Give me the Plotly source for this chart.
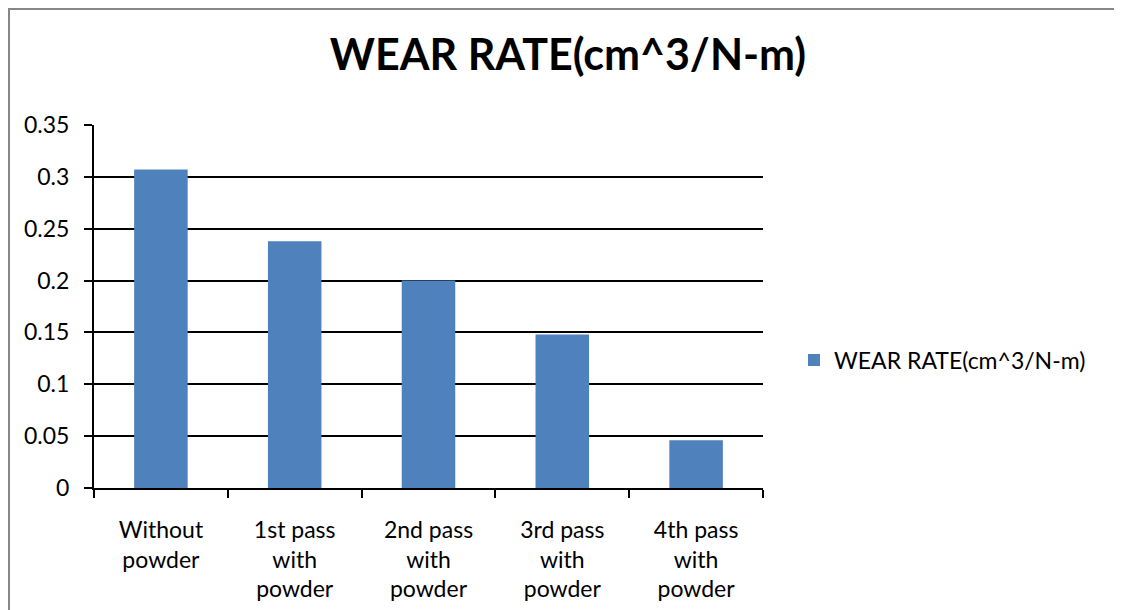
import plotly.graph_objects as go

categories = ["Without<br>powder", "1st pass<br>with<br>powder", "2nd pass<br>with<br>powder",
              "3rd pass<br>with<br>powder", "4th pass<br>with<br>powder"]
wear_rate = [0.307, 0.238, 0.200, 0.148, 0.046]
y_ticks = [0, 0.05, 0.1, 0.15, 0.2, 0.25, 0.3, 0.35]
y_tick_labels = ["0", "0.05", "0.1", "0.15", "0.2", "0.25", "0.3", "0.35"]
series_name = "WEAR RATE(cm^3/N-m)"
title_text = "WEAR RATE(cm^3/N-m)"

FONT = "Lato"
W, H = 1114, 602
L, R, T, B = 86, 1114 - 755, 117, 602 - 480
PW, PH = 755 - 86, 480 - 117

fig = go.Figure()
fig.add_trace(go.Bar(x=categories, y=wear_rate, name=series_name,
                     marker=dict(color="#4F81BD", line=dict(width=0)),
                     showlegend=True))

fig.update_layout(
    width=W, height=H,
    margin=dict(l=L, r=R, t=T, b=B, autoexpand=False),
    paper_bgcolor="white", plot_bgcolor="white",
    font=dict(family=FONT, size=23, color="black"),
    bargap=0.6,
    title=dict(text="<b>" + title_text + "</b>", xref="container", x=560 / W, xanchor="center",
               y=1 - 47 / H, yanchor="middle", font=dict(family=FONT, size=43, color="black")),
    showlegend=True,
    legend=dict(x=(786 - L) / PW, xanchor="left", y=(480 - 352) / PH, yanchor="middle",
                font=dict(family=FONT, size=23, color="black"),
                bgcolor="rgba(0,0,0,0)", itemwidth=30),
    xaxis=dict(type="category", showline=True, linecolor="black", linewidth=2,
               ticks="outside", tickson="boundaries", ticklen=8, tickwidth=1.5, tickcolor="black",
               showgrid=False, tickfont=dict(family=FONT, size=23), ticklabelstandoff=20,
               automargin=False),
    yaxis=dict(range=[0, 0.35], tickvals=y_ticks, ticktext=y_tick_labels,
               showline=True, linecolor="black", linewidth=2,
               ticks="outside", ticklen=8, tickwidth=1.5, tickcolor="black",
               showgrid=True, gridcolor="black", gridwidth=1.5, zeroline=False,
               tickfont=dict(family=FONT, size=23), ticklabelstandoff=10,
               automargin=False),
)

fig.add_shape(type="rect", xref="paper", yref="paper",
              x0=(1 - L) / PW, x1=(1140 - L) / PW,
              y0=(480 - 640) / PH, y1=(480 - 1) / PH,
              line=dict(color="#878787", width=2), fillcolor="rgba(0,0,0,0)", layer="below")

fig.write_html("out.html")
